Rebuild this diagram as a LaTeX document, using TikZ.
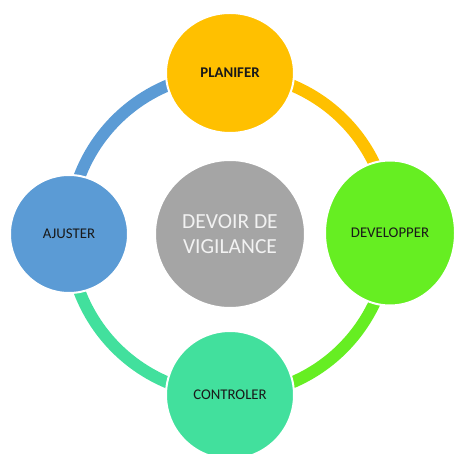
\documentclass[tikz,border=0pt]{standalone}
\usepackage{fontspec}
\setmainfont{Carlito}
\usetikzlibrary{shapes.geometric,backgrounds}

\definecolor{plancol}{HTML}{FFC000}
\definecolor{devcol}{HTML}{66EE22}
\definecolor{ctrlcol}{HTML}{42E09D}
\definecolor{ajustcol}{HTML}{5B9BD5}
\definecolor{centcol}{HTML}{A5A5A5}

\begin{document}
\begin{tikzpicture}[x=1pt,y=1pt,
    etape/.style={ellipse,draw=white,line width=2pt,inner sep=0pt,
      text=black!90,font=\fontsize{14.8}{17}\selectfont},
    anneau/.style={line width=12pt}]

        \path[use as bounding box,clip] (0,0) rectangle (454,454);

        \node[etape,fill=centcol,minimum width=150pt,minimum height=148pt,
          text=white!95!black,align=center,font=\fontsize{21.5}{25}\selectfont]
          at (230,220) (cent) {DEVOIR DE\\VIGILANCE};
        \node[etape,fill=plancol,minimum width=128pt,minimum height=120pt] at (230,381) (plan) {\textbf{PLANIFER}};
        \node[etape,fill=devcol,minimum width=130pt,minimum height=145pt] at (390,221) (dev) {DEVELOPPER};
        \node[etape,fill=ctrlcol,minimum width=128pt,minimum height=128pt] at (230,59) (ctrl) {CONTROLER};
        \node[etape,fill=ajustcol,minimum width=118pt,minimum height=118pt] at (69,220) (ajust) {AJUSTER};

        \begin{pgfonlayer}{background}
        \draw[anneau,draw=plancol] (plan.center) to[out=0,in=90] (dev.center);
        \draw[anneau,draw=devcol] (dev.center) to[out=-90,in=0] (ctrl.center);
        \draw[anneau,draw=ctrlcol] (ctrl.center) to[out=180,in=-90] (ajust.center);
        \draw[anneau,draw=ajustcol] (ajust.center) to[out=90,in=180] (plan.center);
        \end{pgfonlayer}
            \end{tikzpicture}
\end{document}
